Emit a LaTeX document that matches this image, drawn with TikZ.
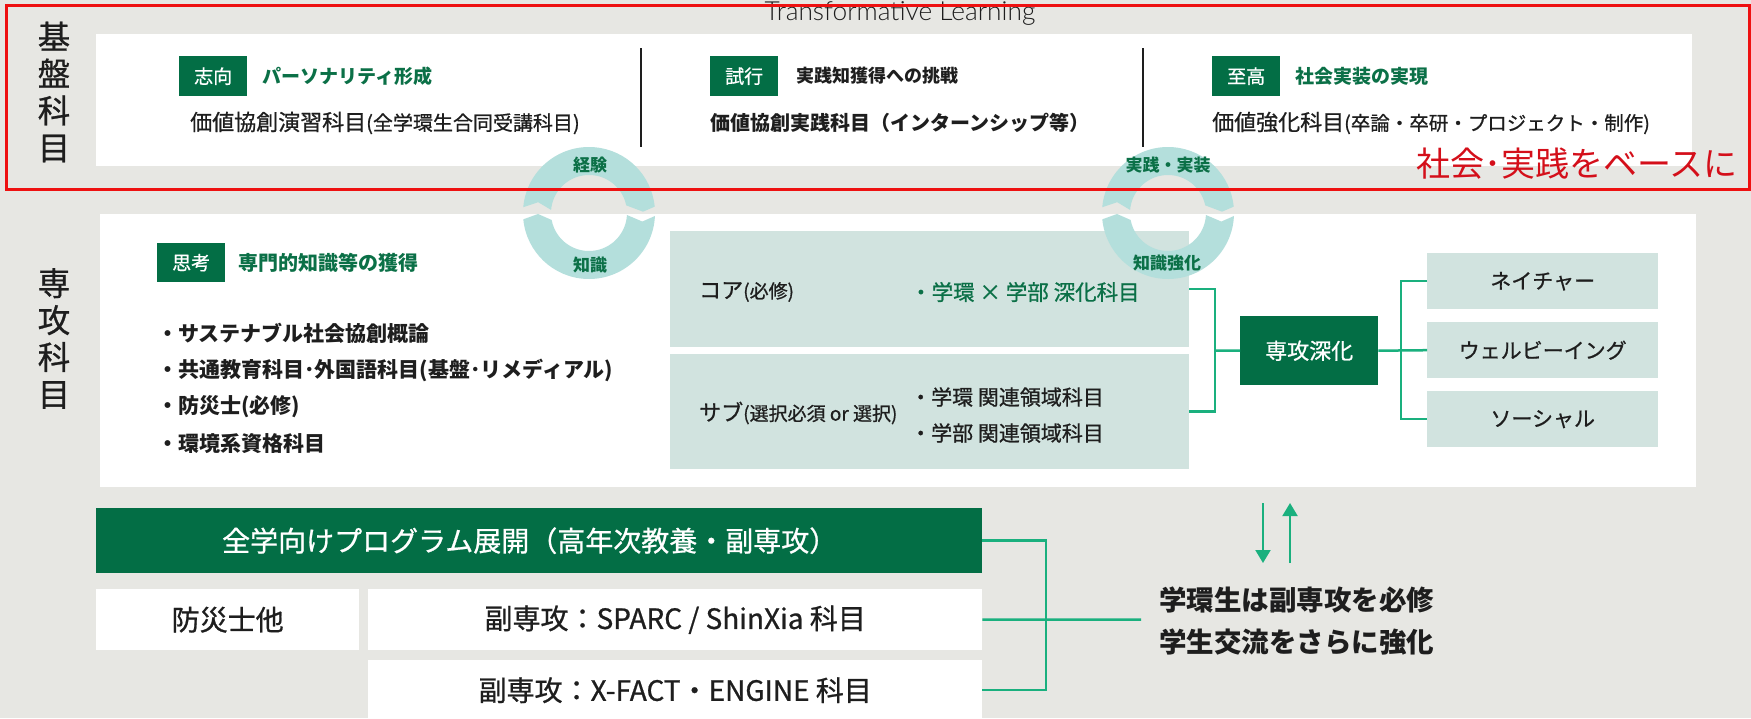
\documentclass[tikz,border=0pt]{standalone}
\usepackage{fontspec}
\setmainfont{Noto Sans CJK JP}
\newfontfamily\medfont{Noto Sans CJK JP}[FakeBold=0.8]
\newfontfamily\latofont{Lato Light}
\usetikzlibrary{arrows.meta,calc}
\definecolor{bggray}{HTML}{E7E7E3}
\definecolor{dgreen}{HTML}{036E45}
\definecolor{tgreen}{HTML}{0B7047}
\definecolor{lgreen}{HTML}{1AB07E}
\definecolor{ringc}{HTML}{B4DFDC}
\definecolor{lbox}{HTML}{D1E3DF}
\definecolor{fred}{HTML}{EE1111}
\definecolor{tred}{HTML}{D40F1A}
\definecolor{ink}{HTML}{1E1E1E}
\newcommand\fsz[1]{\fontsize{#1}{#1}\selectfont}
\newcommand\myringpair[1]{%
 \fill[ringc] ($(#1)+(185:66)$) arc[start angle=185, end angle=354.5, radius=66] -- ($(#1)+(358.6:54)$) -- ($(#1)+(348.4:38)$) arc[start angle=348.4, end angle=184.6, radius=38] -- ($(#1)+(192:52)$) -- cycle;
 \fill[ringc] ($(#1)+(2.6:66)$) arc[start angle=2.6, end angle=174.5, radius=66] -- ($(#1)+(178.9:51)$) -- ($(#1)+(169.4:38)$) arc[start angle=169.4, end angle=3, radius=38] -- ($(#1)+(9.1:54)$) -- cycle;
}
\tikzset{
  panel/.style={fill=white, inner sep=0pt, anchor=north west},
  tag/.style={fill=dgreen, text=white, inner sep=0pt, anchor=north west, minimum width=68pt, minimum height=40pt, font=\medfont\fsz{19}},
  ttl/.style={anchor=west, inner sep=0pt, text=tgreen, font=\bfseries\fsz{19}},
  lbl/.style={anchor=west, inner sep=0pt, text=ink},
  lbx/.style={fill=lbox, inner sep=0pt, anchor=north west},
  conn/.style={draw=lgreen, line width=2.5pt},
  ringlbl/.style={text=tgreen, font=\bfseries\fsz{17}, inner sep=0pt},
  vlbl/.style={align=center, font=\medfont\fontsize{32.5}{37}\selectfont, text=ink, inner sep=0pt},
}
\begin{document}
\begin{tikzpicture}[x=1pt,y=-1pt]
\useasboundingbox (0,0) rectangle (1751,718);
\clip (0,0) rectangle (1751,718);
\fill[bggray] (0,0) rectangle (1751,718);
% panels
\node[panel, minimum width=1596pt, minimum height=132pt] (top) at (96,34) {};
\node[panel, minimum width=1596pt, minimum height=273pt] (mid) at (100,214) {};
% vertical labels
\node[vlbl] (v1) at (54,92) {基\\盤\\科\\目};
\node[vlbl] (v2) at (54,338.5) {専\\攻\\科\\目};
% top panel
\draw[line width=2pt, ink] (641,48) -- (641,147);
\draw[line width=2pt, ink] (1143,48) -- (1143,147);
\node[tag] (t1) at (179,56) {志向};
\node[ttl] (h1) at (262,76) {パーソナリティ形成};
\node[lbl, font=\medfont\fsz{22}] (l1) at (190,123) {価値協創演習科目{\fsz{20}(全学環生合同受講科目)}};
\node[tag] (t2) at (710,56) {試行};
\node[ttl, text=ink, font=\bfseries\fsz{18}] (h2) at (796,76) {実践知獲得への挑戦};
\node[lbl, font=\bfseries\fsz{20}] (l2) at (710,123) {価値協創実践科目（インターンシップ等）};
\node[tag] (t3) at (1212,56) {至高};
\node[ttl] (h3) at (1295,76) {社会実装の実現};
\node[lbl, font=\medfont\fsz{22}] (l3) at (1212,123) {価値強化科目{\fsz{19.5}(卒論・卒研・プロジェクト・制作)}};
% middle panel
\node[tag, minimum height=39pt] (t4) at (157,243) {思考};
\node[ttl, font=\bfseries\fsz{20}] (h4) at (238,263) {専門的知識等の獲得};
\node[lbl, font=\bfseries\fsz{21}] (i1) at (157,333) {・サステナブル社会協創概論};
\node[lbl, font=\bfseries\fsz{21}] (i2) at (157,370) {・共通教育科目･外国語科目(基盤･リメディアル)};
\node[lbl, font=\bfseries\fsz{21}] (i3) at (157,407) {・防災士(必修)};
\node[lbl, font=\bfseries\fsz{21}] (i4) at (157,444) {・環境系資格科目};
\node[lbx, minimum width=519pt, minimum height=116pt] (core) at (670,231) {};
\node[lbx, minimum width=519pt, minimum height=115pt] (sub) at (670,354) {};
\node[lbl, font=\medfont\fsz{22}] (coret) at (699,292) {コア{\fsz{19}(必修)}};
\node[lbl, font=\medfont\fsz{21.5}, text=tgreen] (corei) at (910,292) {・学環 × 学部 深化科目};
\node[lbl, font=\medfont\fsz{22}] (subt) at (699,413) {サブ{\fsz{19}(選択必須 or 選択)}};
\node[lbl, font=\medfont\fsz{21}] (subi1) at (910,397) {・学環 関連領域科目};
\node[lbl, font=\medfont\fsz{21}] (subi2) at (910,433) {・学部 関連領域科目};
\node[fill=dgreen, text=white, inner sep=0pt, anchor=north west, minimum width=138pt, minimum height=69pt, font=\medfont\fsz{22}] (shin) at (1240,316) {専攻深化};
\node[lbx, minimum width=231pt, minimum height=56pt, font=\medfont\fsz{21}, text=ink] (b1) at (1427,253) {ネイチャー};
\node[lbx, minimum width=231pt, minimum height=56pt, font=\medfont\fsz{21}, text=ink] (b2) at (1427,322) {ウェルビーイング};
\node[lbx, minimum width=231pt, minimum height=56pt, font=\medfont\fsz{21}, text=ink] (b3) at (1427,391) {ソーシャル};
\coordinate (jb) at (1215,350.5);
\draw[conn] (core.east) -| (jb) |- (sub.east);
\draw[conn] (jb) -- (shin.west);
\coordinate (kb) at (1401,350.5);
\draw[conn] (shin.east) -- (b2.west);
\draw[conn] (b1.west) -| (kb) |- (b3.west);
% rings
\coordinate (c1) at (589,213);
\coordinate (c2) at (1168,213);
\myringpair{c1}
\myringpair{c2}
\node[ringlbl] (r1a) at (590,165) {経験};
\node[ringlbl] (r1b) at (590,265) {知識};
\node[ringlbl] (r2a) at (1168,165) {実践・実装};
\node[ringlbl] (r2b) at (1167,263) {知識強化};
% bottom
\node[fill=dgreen, inner sep=0pt, anchor=north west, minimum width=886pt, minimum height=65pt] (bar) at (96,508) {};
\node[text=white, inner sep=0pt, font=\medfont\fsz{28}] (bart) at ($(bar.center)+(-9.5,0)$) {全学向けプログラム展開（高年次教養・副専攻）};
\node[panel, minimum width=263pt, minimum height=61pt, font=\medfont\fsz{28}, text=ink] (bosai) at (96,589) {防災士他};
\node[panel, minimum width=614pt, minimum height=61pt, font=\medfont\fsz{28}, text=ink] (sparc) at (368,589) {副専攻：SPARC / ShinXia 科目};
\node[panel, minimum width=614pt, minimum height=60pt, font=\medfont\fsz{28}, text=ink] (xfact) at (368,660) {副専攻：X-FACT・ENGINE 科目};
\coordinate (bj) at (1046,619.5);
\coordinate (tend) at (1141,619.5);
\draw[conn] (bar.east) -| (bj) |- (xfact.east);
\draw[conn] (sparc.east) -- (tend);
\coordinate (a1s) at (1263,503);
\coordinate (a1e) at (1263,563);
\coordinate (a2s) at (1290,563);
\coordinate (a2e) at (1290,503);
\draw[lgreen, line width=2pt, -{Triangle[width=15pt,length=13pt]}] (a1s) -- (a1e);
\draw[lgreen, line width=2pt, -{Triangle[width=15pt,length=13pt]}] (a2s) -- (a2e);
\node[lbl, font=\bfseries\fsz{27.5}] (msg1) at (1159,600) {学環生は副専攻を必修};
\node[lbl, font=\bfseries\fsz{27.5}] (msg2) at (1159,642) {学生交流をさらに強化};
% top overlay
\node[text=ink, font=\latofont\fsz{26.3}, inner sep=0pt] (tl) at (900,13) {Transformative Learning};
\node[anchor=west, inner sep=0pt, text=tred, font=\fsz{34}] (red) at (1416,164) {社会･実践をベースに};
\node[draw=fred, line width=2.5pt, inner sep=0pt, anchor=north west, minimum width=1743pt, minimum height=184pt] (frame) at (5,4) {};
\end{tikzpicture}
\end{document}
